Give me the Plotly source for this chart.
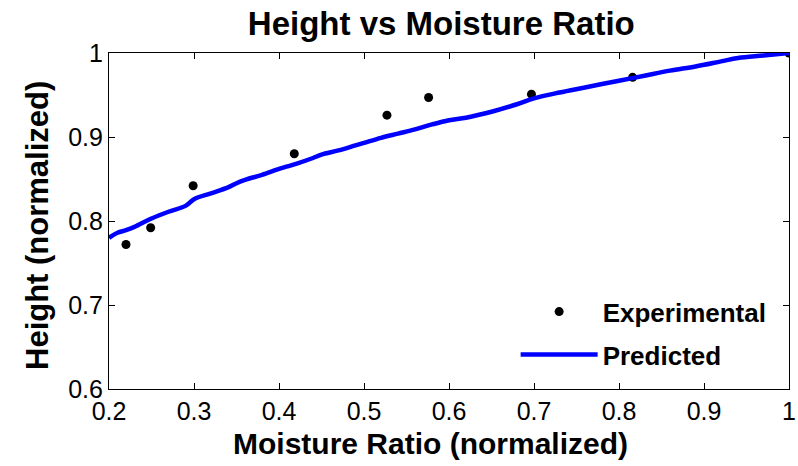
import plotly.graph_objects as go

exp_x = [0.22, 0.249, 0.299, 0.418, 0.527, 0.576, 0.697, 0.816, 1.0]
exp_y = [0.772, 0.792, 0.842, 0.880, 0.926, 0.947, 0.951, 0.971, 1.0]

pred_x = [0.20, 0.21, 0.22, 0.23, 0.25, 0.27, 0.29, 0.30, 0.32, 0.34, 0.35, 0.36, 0.38, 0.40, 0.41,
          0.42, 0.44, 0.45, 0.47, 0.49, 0.50, 0.52, 0.54, 0.56, 0.58, 0.60, 0.62, 0.65, 0.68, 0.70,
          0.73, 0.76, 0.80, 0.83, 0.86, 0.89, 0.92, 0.94, 0.97, 1.00]
pred_y = [0.780, 0.786, 0.789, 0.793, 0.803, 0.811, 0.818, 0.826, 0.833, 0.840, 0.845, 0.849, 0.855, 0.862, 0.865,
          0.868, 0.875, 0.879, 0.884, 0.890, 0.893, 0.899, 0.904, 0.909, 0.915, 0.920, 0.923, 0.930, 0.939, 0.946,
          0.953, 0.959, 0.967, 0.973, 0.979, 0.984, 0.990, 0.994, 0.997, 1.000]

x_ticks = [0.2, 0.3, 0.4, 0.5, 0.6, 0.7, 0.8, 0.9, 1]
y_ticks = [0.6, 0.7, 0.8, 0.9, 1]

font = "Liberation Sans, Arial, Helvetica, sans-serif"

fig = go.Figure()
fig.add_trace(go.Scatter(x=exp_x, y=exp_y, mode="markers", name="Experimental", legendgroup="e",
                         marker=dict(color="black", size=9)))
fig.add_trace(go.Scatter(x=pred_x, y=pred_y, mode="lines", name="Predicted", legendgroup="p",
                         line=dict(color="#0000ff", width=4.5, shape="spline")))

axis_common = dict(showgrid=False, zeroline=False, showline=True, linecolor="black", linewidth=1.2,
                   mirror="ticks", ticks="inside", ticklen=6, tickcolor="black", automargin=False,
                   tickfont=dict(family=font, size=25, color="black"))

fig.update_layout(
    width=798, height=466,
    margin=dict(l=109, r=9, t=53, b=77),
    paper_bgcolor="white", plot_bgcolor="white",
    title=dict(text="<b>Height vs Moisture Ratio</b>", x=0.553, xanchor="center", y=0.95, yanchor="middle",
               font=dict(family=font, size=33, color="black")),
    xaxis=dict(range=[0.2, 1.0], tickvals=x_ticks, ticktext=[str(v) for v in x_ticks], **axis_common),
    yaxis=dict(range=[0.6, 1.0], tickvals=y_ticks, ticktext=[str(v) for v in y_ticks], **axis_common),
    legend=dict(x=0.598, y=0.3, xanchor="left", yanchor="top", bgcolor="rgba(0,0,0,0)",
                font=dict(family=font, size=26, color="black", weight="bold"),
                itemwidth=77, traceorder="grouped", tracegroupgap=6),
    showlegend=True,
    annotations=[
        dict(text="<b>Moisture Ratio (normalized)</b>", xref="paper", yref="paper",
             x=(430 - 109) / 680, y=-(443 - 389) / 336, xanchor="center", yanchor="middle",
             showarrow=False, font=dict(family=font, size=30, color="black")),
        dict(text="<b>Height (normalized)</b>", xref="paper", yref="paper", textangle=-90,
             x=-(109 - 38) / 680, y=(389 - 226) / 336, xanchor="center", yanchor="middle",
             showarrow=False, font=dict(family=font, size=31, color="black")),
    ],
)

fig.write_html("out.html")
